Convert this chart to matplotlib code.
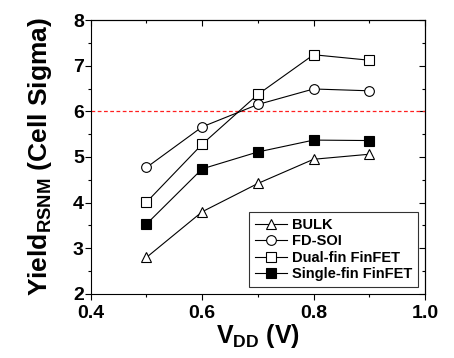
import matplotlib
matplotlib.use("Agg")
import matplotlib.pyplot as plt
from matplotlib.ticker import MultipleLocator

plt.rcParams['font.family'] = ['Liberation Sans', 'DejaVu Sans']
plt.rcParams['font.weight'] = 'bold'
plt.rcParams['mathtext.fontset'] = 'custom'
plt.rcParams['mathtext.rm'] = 'Liberation Sans:bold'
plt.rcParams['mathtext.bf'] = 'Liberation Sans:bold'

vdd = [0.5, 0.6, 0.7, 0.8, 0.9]
bulk = [2.80, 3.80, 4.42, 4.95, 5.06]
fdsoi = [4.77, 5.66, 6.15, 6.49, 6.45]
dual_fin = [4.01, 5.28, 6.37, 7.24, 7.12]
single_fin = [3.53, 4.74, 5.11, 5.37, 5.36]
target_sigma = 6.0
x_ticks = [0.4, 0.6, 0.8, 1.0]
x_ticklabels = ['0.4', '0.6', '0.8', '1.0']

fig = plt.figure(figsize=(4.54, 3.58), dpi=100)
ax = fig.add_axes([0.200, 0.179, 0.736, 0.765])

ax.axhline(target_sigma, color='#ff2020', linestyle='--', linewidth=0.9, dashes=(3, 2))

common = dict(color='black', linewidth=0.8, markersize=7, markeredgewidth=0.8)
ax.plot(vdd, bulk, marker='^', markerfacecolor='white', label='BULK', **common)
ax.plot(vdd, fdsoi, marker='o', markerfacecolor='white', label='FD-SOI', **common)
ax.plot(vdd, dual_fin, marker='s', markerfacecolor='white', label='Dual-fin FinFET', **common)
ax.plot(vdd, single_fin, marker='s', markerfacecolor='black', label='Single-fin FinFET', **common)

ax.set_xlim(0.4, 1.0)
ax.set_ylim(2, 8)
ax.set_xticks(x_ticks)
ax.set_xticklabels(x_ticklabels)
ax.xaxis.set_minor_locator(MultipleLocator(0.1))
ax.yaxis.set_major_locator(MultipleLocator(1))
ax.yaxis.set_minor_locator(MultipleLocator(0.5))

ax.tick_params(which='both', direction='out', top=False, right=False, labelsize=14, width=0.8)
ax.tick_params(which='major', length=4, pad=1)
ax.tick_params(axis='x', which='major', pad=4)
ax.tick_params(which='minor', length=2)
# inward ticks on top/right, Origin style
sec_x = ax.secondary_xaxis('top')
sec_x.xaxis.set_major_locator(MultipleLocator(0.2))
sec_x.xaxis.set_minor_locator(MultipleLocator(0.1))
sec_x.tick_params(which='both', direction='in', labeltop=False, width=0.8)
sec_x.tick_params(which='major', length=4)
sec_x.tick_params(which='minor', length=2)
sec_y = ax.secondary_yaxis('right')
sec_y.yaxis.set_major_locator(MultipleLocator(1))
sec_y.yaxis.set_minor_locator(MultipleLocator(0.5))
sec_y.tick_params(which='both', direction='in', labelright=False, width=0.8)
sec_y.tick_params(which='major', length=4)
sec_y.tick_params(which='minor', length=2)
for s in ax.spines.values():
    s.set_linewidth(0.8)

for lbl in ax.get_xticklabels() + ax.get_yticklabels():
    lbl.set_fontweight('bold')

ax.set_xlabel(r'V$_{\rm DD}$ (V)', fontsize=18, fontweight='bold', labelpad=0)
ax.set_ylabel(r'Yield$_{\rm RSNM}$ (Cell Sigma)', fontsize=19, fontweight='bold', labelpad=14)

leg = ax.legend(loc='lower right', fontsize=10.5, frameon=True, fancybox=False,
                edgecolor='black', handlelength=2.2, handletextpad=0.3,
                labelspacing=0.15, borderpad=0.4, borderaxespad=0.5, numpoints=1)
leg.get_frame().set_linewidth(0.8)
for t in leg.get_texts():
    t.set_fontweight('bold')

fig.savefig('out.png', dpi=100)
